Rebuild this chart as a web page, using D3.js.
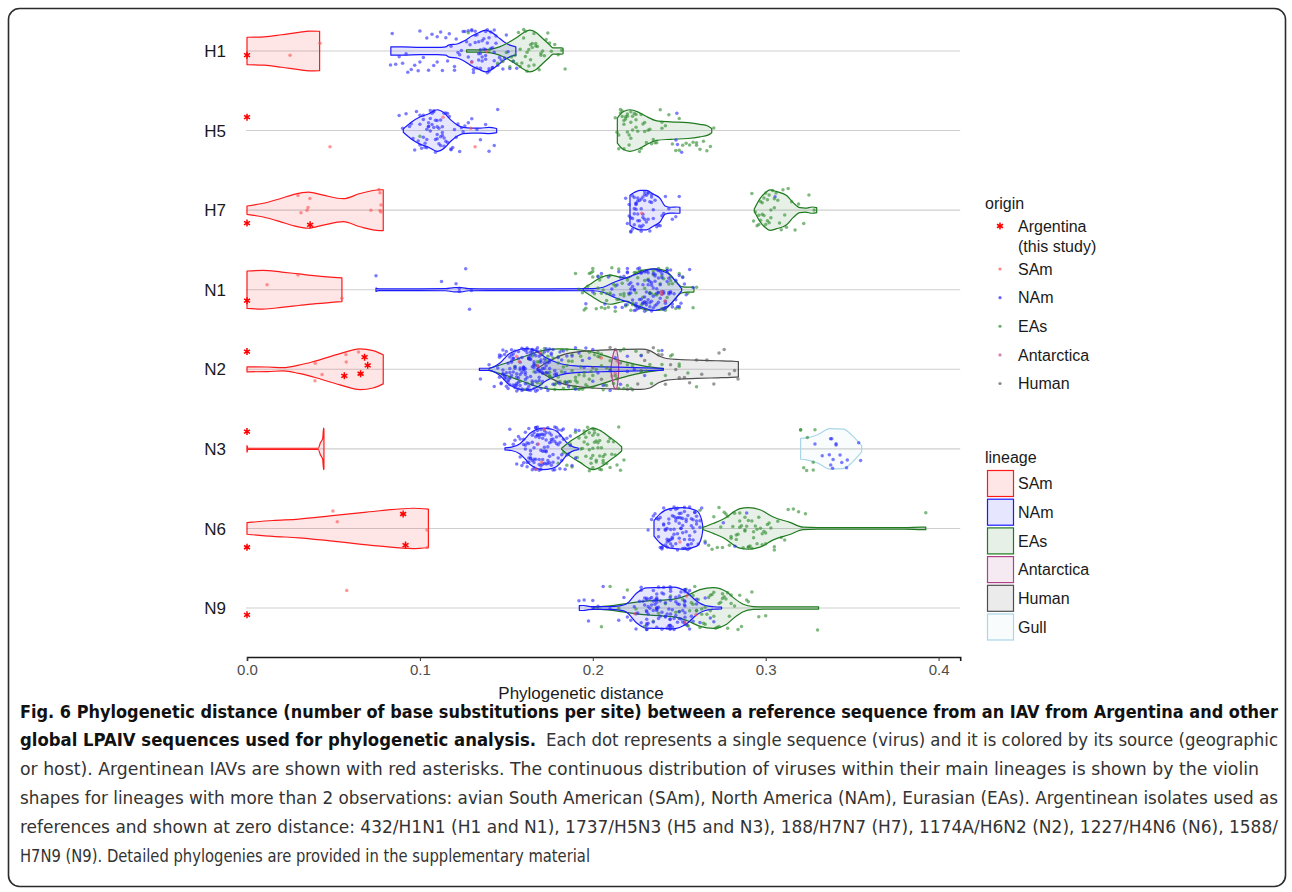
<!DOCTYPE html>
<html><head><meta charset="utf-8">
<script src="https://cdn.jsdelivr.net/npm/d3@7"></script>
<style>body{margin:0;background:#fff} svg{display:block}</style>
</head><body><svg id="c" width="1292" height="892"></svg>
<script>
// ---------- categories ----------
const genes = ["H1","H5","H7","N1","N2","N3","N6","N9"];
const lineages = ["SAm","NAm","EAs","Antarctica","Human","Gull"];
const origins = ["SAm","NAm","EAs","Antarctica","Human"];
const xTicks = [0, 0.1, 0.2, 0.3, 0.4];

// ---------- violin profiles: [distance, relative density] ----------
const vioH1SAm = [[0,.66],[.01,.68],[.02,.78],[.03,.9],[.036,.96],[.042,.95]];
const vioH1NAm = [[.0832,.2],[.09,.2],[.1,.17],[.11,.17],[.115,.2],[.1165,.28],[.122,.35],[.126,.5],[.13,.72],[.134,.88],[.138,1],[.141,.92],[.145,.68],[.149,.42],[.152,.28],[.1555,.2]];
const vioH1EAs = [[.127,.05],[.135,.05],[.14,.08],[.146,.2],[.151,.4],[.156,.65],[.16,.88],[.1635,1],[.167,.9],[.171,.6],[.175,.3],[.177,.15],[.182,.15],[.1828,.13]];
const vioH5NAm = [[.0904,.08],[.095,.4],[.1,.65],[.105,.8],[.11,1],[.114,.85],[.118,.5],[.122,.25],[.125,.15],[.13,.12],[.135,.12],[.14,.15],[.1444,.1]];
const vioH5EAs = [[.2142,.6],[.2175,.9],[.2215,1],[.226,.9],[.2305,.7],[.237,.47],[.245,.42],[.255,.38],[.262,.3],[.2665,.22],[.2688,.1]];
const vioH7SAm = [[0,.2],[.0094,.33],[.0191,.55],[.0268,.75],[.0355,.87],[.0441,.72],[.0557,.55],[.0654,.8],[.0769,.98],[.0788,.98]];
const vioH7NAm = [[.2215,.72],[.224,.85],[.2273,.95],[.231,.95],[.235,.77],[.2389,.57],[.2418,.2],[.245,.14],[.2485,.15],[.2504,.14]];
const vioH7EAs = [[.2934,.05],[.2967,.55],[.3,.85],[.3025,.97],[.306,.9],[.3121,.7],[.316,.35],[.3198,.12],[.323,.1],[.327,.15],[.3295,.12]];
const vioN1SAm = [[0,.9],[.0092,.93],[.02,.85],[.03,.76],[.04,.67],[.0549,.57]];
const vioN1NAm = [[.0746,.08],[.076,.04],[.1,.04],[.115,.05],[.12,.1],[.124,.1],[.128,.05],[.14,.04],[.2,.05],[.206,.12],[.212,.35],[.2196,.58],[.227,.8],[.235,1],[.24,.9],[.2446,.72],[.248,.4],[.2514,.05]];
const vioN1EAs = [[.1945,.05],[.2,.35],[.205,.6],[.21,.7],[.215,.62],[.2196,.55],[.225,.8],[.23,.95],[.236,1],[.242,.92],[.247,.5],[.2514,.15],[.255,.12],[.258,.12],[.2585,.1]];
const vioN2SAm = [[0,.12],[.012,.11],[.021,.08],[.03,.2],[.0384,.37],[.0538,.75],[.0654,.98],[.0729,.9],[.0788,.7]];
const vioN2NAm = [[.1344,.05],[.14,.05],[.1463,.3],[.1521,.77],[.1618,1],[.168,.85],[.173,.55],[.18,.3],[.19,.16],[.2,.13],[.215,.1],[.23,.07],[.2408,.04]];
const vioN2EAs = [[.14,.05],[.15,.3],[.16,.6],[.17,.88],[.18,.98],[.19,.95],[.2003,.82],[.2119,.52],[.22,.33],[.2292,.16],[.2408,.03]];
const vioN2Ant = [[.2105,.1],[.2115,.6],[.2125,.9],[.2135,.95],[.2145,.6],[.215,.1]];
const vioN2Hum = [[.168,.05],[.175,.4],[.185,.75],[.2,.9],[.215,.95],[.228,.97],[.233,.9],[.238,.65],[.2427,.52],[.25,.47],[.26,.44],[.272,.41],[.28,.39],[.2842,.37]];
const vioN3SAm = [[0,.16],[.0006,.03],[.0412,.03],[.0425,.3],[.0438,.5],[.0443,1],[.0445,.95]];
const vioN3NAm = [[.1492,.05],[.153,.08],[.1579,.25],[.161,.5],[.1637,.75],[.1714,1],[.176,.95],[.1791,.85],[.1825,.55],[.1849,.3],[.188,.12],[.1916,.04]];
const vioN3EAs = [[.182,.03],[.1868,.35],[.1926,.65],[.2003,1],[.205,.85],[.2099,.55],[.214,.3],[.2167,.1]];
const vioN3Gull = [[.3202,.5],[.3235,.53],[.33,.68],[.3372,.97],[.3449,.95],[.35,.65],[.3555,.15]];
const vioN6SAm = [[0,.28],[.015,.38],[.03,.45],[.048,.6],[.065,.75],[.0769,.85],[.0962,.97],[.1049,.93]];
const vioN6NAm = [[.2354,.37],[.2389,.7],[.2447,.95],[.2523,1],[.2601,.85],[.263,.4],[.2636,.1]];
const vioN6EAs = [[.2636,.05],[.27,.25],[.2755,.45],[.2851,.95],[.29,1],[.2967,.9],[.3044,.55],[.314,.29],[.3217,.06],[.33,.04],[.38,.04],[.3905,.06],[.3926,.06]];
const vioN9NAm = [[.1922,.11],[.1945,.12],[.1975,.08],[.2003,.07],[.21,.07],[.2157,.1],[.2196,.2],[.2254,.72],[.2312,.97],[.24,.98],[.2466,1],[.2543,.76],[.2601,.33],[.265,.12],[.27,.06],[.2745,.04]];
const vioN9EAs = [[.2003,.04],[.21,.1],[.22,.22],[.2292,.32],[.24,.38],[.2485,.45],[.2543,.6],[.262,.88],[.2697,.98],[.2774,.78],[.2813,.5],[.287,.18],[.2928,.07],[.3,.05],[.32,.05],[.3306,.05]];

// ---------- Argentina (this study) asterisks, per gene ----------
const argentinaPts = [[0],[0],[0,.0365],[0],[0,.0657,.0698,.0563,.068],[0],[0,.0903,.0917],[0]];

// ---------- sequence points (distance) per gene / origin ----------
const ptsH1SAm = [.0249,.0422,.13,.1386];
const ptsH1NAm = [.083,.084,.086,.088,.09,.092,.093,.095,.097,.099,.1,.102,.104,.105,.107,.108,.11,.112,.113,.115,.116,.117,.118,.12,.121,.122,.123,.124,.125,.126,.127,.128,.128,.129,.13,.13,.131,.132,.132,.133,.133,.134,.134,.135,.135,.136,.136,.137,.137,.138,.138,.138,.139,.139,.14,.14,.141,.141,.142,.142,.143,.143,.144,.145,.146,.147,.148,.149,.15,.151,.152,.154,.156,.13,.132,.134,.136,.138,.14,.142,.144,.131,.135,.139,.143,.1,.11,.12];
const ptsH1EAs = [.128,.14,.145,.148,.15,.152,.153,.154,.155,.156,.157,.158,.158,.159,.16,.16,.161,.161,.162,.162,.163,.163,.164,.164,.165,.165,.166,.166,.167,.167,.168,.169,.17,.17,.171,.172,.173,.174,.175,.176,.178,.18,.182,.184];
const ptsH5SAm = [.048,.1319,.1294,.1134];
const ptsH5NAm = [.088,.09,.092,.094,.095,.096,.097,.098,.099,.1,.1,.101,.102,.102,.103,.103,.104,.104,.105,.105,.106,.106,.107,.107,.108,.108,.109,.109,.11,.11,.11,.111,.111,.112,.112,.113,.113,.114,.114,.115,.115,.116,.117,.118,.118,.119,.12,.121,.122,.123,.124,.125,.126,.128,.13,.133,.135,.138,.14,.143,.145,.2481,.2486,.249,.2514,.1,.102,.104,.106,.108,.11,.112,.114,.116,.105,.109,.113];
const ptsH5EAs = [.1,.213,.214,.215,.216,.216,.217,.217,.218,.218,.219,.219,.22,.22,.221,.221,.222,.222,.223,.223,.224,.225,.225,.226,.227,.228,.229,.23,.231,.232,.233,.234,.235,.236,.237,.239,.24,.242,.244,.246,.248,.25,.252,.254,.256,.258,.26,.262,.264,.266,.268,.27,.215,.218,.22,.222,.225,.228,.23,.24,.25,.26];
const ptsH7SAm = [.0364,.0353,.0347,.0295,.0312,.0717,.0769,.0769,.0775,.0775,.0763,.2283];
const ptsH7NAm = [.219,.22,.221,.221,.222,.222,.223,.223,.223,.224,.224,.224,.225,.225,.225,.226,.226,.226,.227,.227,.227,.228,.228,.228,.229,.229,.229,.23,.23,.23,.231,.231,.232,.232,.233,.233,.234,.234,.235,.235,.236,.237,.238,.239,.24,.241,.242,.244,.246,.248,.25,.3054,.222,.224,.226,.228,.23,.232,.234,.225,.229];
const ptsH7EAs = [.292,.293,.294,.295,.296,.296,.297,.297,.298,.298,.299,.299,.3,.3,.301,.301,.302,.302,.303,.303,.304,.305,.305,.306,.307,.308,.309,.31,.311,.312,.313,.315,.317,.319,.322,.325,.328];
const ptsN1SAm = [.0295,.0116,.0549,.2398,.2398,.2418];
const ptsN1NAm = [.0746,.1209,.1228,.1287,.1125,.1228,.1265,.1298,.196,.2,.203,.205,.207,.209,.211,.212,.213,.214,.215,.216,.217,.218,.219,.22,.22,.221,.222,.222,.223,.224,.224,.225,.225,.226,.226,.227,.227,.228,.228,.229,.229,.23,.23,.23,.231,.231,.231,.232,.232,.232,.233,.233,.233,.234,.234,.234,.235,.235,.235,.236,.236,.236,.237,.237,.237,.238,.238,.238,.239,.239,.24,.24,.24,.241,.241,.242,.242,.243,.243,.244,.244,.245,.245,.246,.247,.248,.249,.25,.251,.252,.254,.256,.258,.22,.222,.224,.226,.228,.23,.232,.234,.236,.238,.24,.242,.244,.246,.248,.221,.223,.225,.227,.229,.231,.233,.235,.237,.239,.241,.243,.245,.25,.253];
const ptsN1EAs = [.19,.192,.194,.195,.196,.197,.198,.199,.2,.2,.201,.202,.203,.204,.205,.205,.206,.207,.208,.209,.21,.21,.211,.212,.213,.214,.215,.216,.217,.218,.219,.22,.221,.222,.223,.224,.225,.226,.227,.228,.229,.23,.23,.231,.232,.233,.234,.235,.236,.237,.238,.239,.24,.241,.242,.243,.244,.245,.246,.248,.25,.252,.255,.258,.26,.2,.205,.21,.215,.22,.225,.23,.235,.24,.245,.25,.203,.208,.213,.218,.223,.228,.233,.238,.243,.248];
const ptsN2SAm = [.0434,.0395,.0393,.0572,.0574,.0645,.156,.1695,.1683,.1575,.205];
const ptsN2NAm = [.135,.14,.143,.145,.146,.147,.148,.148,.149,.149,.15,.15,.151,.151,.152,.152,.152,.153,.153,.153,.154,.154,.154,.155,.155,.155,.156,.156,.156,.157,.157,.157,.158,.158,.158,.159,.159,.159,.16,.16,.16,.16,.161,.161,.161,.161,.162,.162,.162,.162,.163,.163,.163,.163,.164,.164,.164,.164,.165,.165,.165,.165,.166,.166,.166,.166,.167,.167,.167,.168,.168,.168,.169,.169,.169,.17,.17,.17,.171,.171,.172,.172,.173,.173,.174,.174,.175,.175,.176,.177,.178,.179,.18,.181,.182,.183,.184,.185,.186,.188,.19,.192,.194,.196,.198,.2,.203,.206,.21,.213,.216,.22,.224,.228,.146,.147,.148,.149,.15,.151,.152,.153,.154,.155,.156,.157,.158,.159,.16,.161,.162,.163,.164,.165,.166,.167,.168,.169,.17,.171,.172,.173,.174,.175,.146,.148,.15,.152,.154,.156,.158,.16,.162,.164,.166,.168,.17,.172,.174,.176,.178,.18,.147,.149,.151,.153,.155,.157,.159,.161,.163,.165,.167,.169,.171,.173,.175,.177,.179,.181,.185,.19,.195,.2,.21,.22,.23,.24];
const ptsN2EAs = [.152,.155,.158,.16,.162,.163,.165,.166,.167,.168,.169,.17,.171,.172,.173,.174,.175,.175,.176,.177,.178,.178,.179,.18,.18,.181,.182,.182,.183,.184,.184,.185,.186,.186,.187,.188,.188,.189,.19,.19,.191,.192,.192,.193,.194,.195,.196,.197,.198,.199,.2,.201,.202,.203,.204,.205,.206,.207,.208,.21,.212,.214,.216,.218,.22,.222,.225,.228,.231,.234,.238,.242,.246,.25,.255,.165,.17,.175,.18,.185,.19,.195,.2,.205,.21,.215,.22,.168,.173,.178,.183,.188,.193,.198,.203,.208,.213,.218,.223,.228,.233,.24,.245,.25,.26];
const ptsN2Ant = [.211,.213,.214];
const ptsN2Hum = [.2,.205,.21,.213,.216,.22,.223,.226,.228,.23,.232,.235,.238,.24,.242,.245,.248,.25,.253,.256,.26,.263,.266,.27,.273,.276,.279,.282,.284];
const ptsN3SAm = [.1704,.1685,.1672,.172];
const ptsN3NAm = [.149,.152,.154,.156,.157,.158,.159,.16,.16,.161,.161,.162,.162,.163,.163,.163,.164,.164,.164,.165,.165,.165,.166,.166,.166,.166,.167,.167,.167,.167,.168,.168,.168,.168,.169,.169,.169,.169,.17,.17,.17,.17,.171,.171,.171,.171,.172,.172,.172,.172,.173,.173,.173,.173,.174,.174,.174,.175,.175,.175,.176,.176,.176,.177,.177,.177,.178,.178,.179,.179,.18,.18,.181,.181,.182,.182,.183,.184,.185,.186,.187,.188,.19,.192,.3327,.3382,.3407,.3472,.3368,.3375,.3407,.3468,.3549,.344,.3387,.3376,.3285,.3538,.339,.343,.16,.162,.164,.166,.168,.17,.172,.174,.176,.178,.18,.182,.161,.163,.165,.167,.169,.171,.173,.175,.177,.179,.181,.183,.185,.155,.158,.187,.19];
const ptsN3EAs = [.18,.183,.185,.187,.188,.19,.191,.192,.193,.194,.195,.195,.196,.196,.197,.197,.198,.198,.199,.199,.2,.2,.2,.201,.201,.201,.202,.202,.203,.203,.204,.204,.205,.205,.206,.206,.207,.208,.209,.21,.211,.212,.213,.214,.215,.216,.218,.3202,.3237,.3285,.3241,.3275,.3202,.3275,.322,.195,.198,.2,.202,.204,.206,.2,.203,.21];
const ptsN6SAm = [.0522,.0497,.1041,.1041,.2504];
const ptsN6NAm = [.232,.234,.235,.236,.237,.238,.238,.239,.239,.24,.24,.241,.241,.242,.242,.243,.243,.243,.244,.244,.244,.245,.245,.245,.246,.246,.246,.247,.247,.247,.248,.248,.248,.249,.249,.249,.25,.25,.25,.251,.251,.251,.252,.252,.252,.253,.253,.253,.254,.254,.254,.255,.255,.255,.256,.256,.256,.257,.257,.258,.258,.259,.259,.26,.26,.261,.262,.263,.265,.2755,.2822,.289,.24,.242,.244,.246,.248,.25,.252,.254,.256,.258,.26,.241,.243,.245,.247,.249,.251,.253,.255,.257,.259,.238,.262];
const ptsN6EAs = [.262,.265,.267,.269,.27,.272,.273,.274,.275,.276,.277,.278,.279,.28,.281,.282,.283,.284,.285,.285,.286,.287,.288,.288,.289,.29,.29,.291,.292,.292,.293,.294,.295,.296,.297,.298,.299,.3,.301,.302,.303,.305,.307,.309,.311,.313,.316,.319,.323,.3926,.28,.285,.29,.295,.3,.305,.283,.288,.293,.298];
const ptsN9SAm = [.0577,.2597,.2543,.2533,.2244];
const ptsN9NAm = [.192,.195,.1975,.2,.2,.203,.206,.21,.215,.218,.22,.222,.224,.225,.226,.227,.228,.228,.229,.23,.23,.231,.2312,.2312,.2312,.2312,.2312,.2312,.232,.232,.233,.233,.234,.234,.235,.235,.235,.236,.236,.237,.237,.237,.237,.237,.237,.237,.237,.238,.238,.239,.239,.24,.24,.24,.241,.241,.242,.242,.243,.243,.244,.244,.2447,.2447,.2447,.2447,.2447,.2447,.245,.245,.245,.246,.246,.247,.247,.248,.248,.249,.249,.25,.25,.25,.251,.251,.252,.252,.253,.253,.2533,.2533,.2533,.2533,.2533,.2533,.254,.255,.256,.257,.258,.26,.262,.265,.268,.27,.225,.228,.232,.235,.238,.242,.245,.248,.25,.253,.256,.26,.2312,.2312,.237,.237,.2447,.2447,.2533,.2533];
const ptsN9EAs = [.205,.21,.215,.22,.225,.23,.235,.238,.242,.245,.248,.25,.252,.254,.255,.256,.257,.258,.259,.26,.261,.262,.263,.264,.265,.266,.267,.268,.269,.27,.271,.272,.273,.274,.275,.276,.277,.278,.279,.28,.282,.284,.286,.289,.292,.296,.3,.33,.255,.26,.265,.27,.275,.28,.258,.263,.268,.273,.278,.285,.29];

// ---------- tables built from the arrays ----------
const violins = [
  ["H1","SAm",vioH1SAm],["H1","NAm",vioH1NAm],["H1","EAs",vioH1EAs],
  ["H5","NAm",vioH5NAm],["H5","EAs",vioH5EAs],
  ["H7","SAm",vioH7SAm],["H7","NAm",vioH7NAm],["H7","EAs",vioH7EAs],
  ["N1","SAm",vioN1SAm],["N1","EAs",vioN1EAs],["N1","NAm",vioN1NAm],
  ["N2","SAm",vioN2SAm],["N2","EAs",vioN2EAs],["N2","Human",vioN2Hum],["N2","Antarctica",vioN2Ant],["N2","NAm",vioN2NAm],
  ["N3","SAm",vioN3SAm],["N3","NAm",vioN3NAm],["N3","EAs",vioN3EAs],["N3","Gull",vioN3Gull],
  ["N6","SAm",vioN6SAm],["N6","NAm",vioN6NAm],["N6","EAs",vioN6EAs],
  ["N9","EAs",vioN9EAs],["N9","NAm",vioN9NAm]
];
const pointSets = [
  ["H1","NAm",ptsH1NAm],["H1","EAs",ptsH1EAs],["H1","SAm",ptsH1SAm],
  ["H5","NAm",ptsH5NAm],["H5","EAs",ptsH5EAs],["H5","SAm",ptsH5SAm],
  ["H7","NAm",ptsH7NAm],["H7","EAs",ptsH7EAs],["H7","SAm",ptsH7SAm],
  ["N1","EAs",ptsN1EAs],["N1","NAm",ptsN1NAm],["N1","SAm",ptsN1SAm],
  ["N2","Human",ptsN2Hum],["N2","EAs",ptsN2EAs],["N2","NAm",ptsN2NAm],["N2","Antarctica",ptsN2Ant],["N2","SAm",ptsN2SAm],
  ["N3","EAs",ptsN3EAs],["N3","NAm",ptsN3NAm],["N3","SAm",ptsN3SAm],
  ["N6","EAs",ptsN6EAs],["N6","NAm",ptsN6NAm],["N6","SAm",ptsN6SAm],
  ["N9","EAs",ptsN9EAs],["N9","NAm",ptsN9NAm],["N9","SAm",ptsN9SAm]
];

// ---------- drawing ----------
const svg = d3.select("#c");
const x = d3.scaleLinear().domain([0, 0.4125]).range([247, 960.2]);
const y = d3.scalePoint().domain(genes).range([51, 608]);
const w = d3.scaleLinear().domain([0, 1]).range([0, 20.8]);
const lineColor = d3.scaleOrdinal().domain(lineages).range(["#ff1a1a","#1a1aff","#1f7a1f","#b0408a","#4d4d4d","#a9d6e8"]);
const ptColor = d3.scaleOrdinal().domain(origins).range(["#ff5050","#2424ff","#2a8a2a","#c0508f","#555555"]);
const FONT = "'Liberation Sans', Arial, Helvetica, sans-serif";

svg.append("rect").attr("x",8.5).attr("y",8.5).attr("width",1277).attr("height",878)
  .attr("rx",11).attr("fill","none").attr("stroke","#2b2b2b").attr("stroke-width",1.6);

// grid lines
svg.append("g").selectAll("line").data(genes).join("line")
  .attr("x1", 246).attr("x2", x(0.4125)).attr("y1", d => y(d)).attr("y2", d => y(d))
  .attr("stroke", "#cfcfcf").attr("stroke-width", 1.1);

// gene labels
svg.append("g").selectAll("text").data(genes).join("text")
  .attr("x", 226).attr("y", d => y(d)).attr("dy", "0.36em").attr("text-anchor","end")
  .attr("font-family", FONT).attr("font-size", 17).attr("fill","#1a1a1a").text(d => d);

// violins
const gV = svg.append("g");
violins.forEach(([gene, lin, prof]) => {
  const cy = y(gene);
  const area = d3.area().x(d => x(d[0])).y0(d => cy - w(d[1])).y1(d => cy + w(d[1])).curve(d3.curveMonotoneX);
  gV.append("path").attr("d", area(prof))
    .attr("fill", lineColor(lin)).attr("fill-opacity", lin === "Gull" ? 0.08 : 0.11)
    .attr("stroke", lineColor(lin)).attr("stroke-width", 1.2).attr("stroke-linejoin","round");
});

// jittered points (deterministic vertical spread, as geom_jitter does)
const jit = (i, s) => { const v = Math.sin(i * 127.1 + s * 311.7) * 43758.5453; return (v - Math.floor(v)) * 2 - 1; };
const gP = svg.append("g");
pointSets.forEach(([gene, org, xs], si) => {
  const cy = y(gene);
  gP.append("g").selectAll("circle").data(xs).join("circle")
    .attr("cx", d => x(d)).attr("cy", (d, i) => cy + jit(i, si + 1) * 22)
    .attr("r", 1.75).attr("fill", ptColor(org)).attr("fill-opacity", 0.6);
});

// Argentina asterisks
const star = d3.symbol(d3.symbolAsterisk, 34);
genes.forEach((gene, gi) => {
  const cy = y(gene);
  svg.append("g").selectAll("path").data(argentinaPts[gi]).join("path")
    .attr("d", star).attr("transform", (d, i) => `translate(${x(d)},${cy + jit(i, gi * 3 + 40) * 20})`)
    .attr("fill","none").attr("stroke","#ff0000").attr("stroke-width",1.5);
});

// x axis
const ax = svg.append("g").attr("transform","translate(0,657)")
  .call(d3.axisBottom(x).tickValues(xTicks).tickFormat(d3.format(".1f")).tickSize(4).tickPadding(3));
ax.select(".domain").attr("stroke","#1a1a1a").attr("stroke-width",1.6);
ax.selectAll(".tick line").attr("stroke","#333");
ax.selectAll(".tick text").attr("font-family", FONT).attr("font-size", 15).attr("fill","#4d4d4d");
svg.append("text").attr("x", 581).attr("y", 699).attr("text-anchor","middle")
  .attr("font-family", FONT).attr("font-size", 17).attr("fill","#1a1a1a").text("Phylogenetic distance");

// legend: origin
const LX = 985;
svg.append("text").attr("x", LX).attr("y", 203).attr("dy","0.36em").attr("font-family", FONT)
  .attr("font-size", 16).attr("fill","#1a1a1a").text("origin");
svg.append("path").attr("d", star).attr("transform","translate(1000,226)")
  .attr("fill","none").attr("stroke","#ff0000").attr("stroke-width",1.5);
svg.append("text").attr("x",1018).attr("y",226).attr("dy","0.36em").attr("font-family",FONT)
  .attr("font-size",16).attr("fill","#1a1a1a").text("Argentina");
svg.append("text").attr("x",1018).attr("y",246.5).attr("dy","0.36em").attr("font-family",FONT)
  .attr("font-size",16).attr("fill","#1a1a1a").text("(this study)");
const oy = d3.scaleLinear().domain([0,4]).range([269, 383.5]);
const gO = svg.append("g").selectAll("g").data(origins).join("g")
  .attr("transform", (d, i) => `translate(0,${oy(i)})`);
gO.append("circle").attr("cx",1000).attr("cy",0).attr("r",1.6).attr("fill", d => ptColor(d)).attr("fill-opacity",0.7);
gO.append("text").attr("x",1018).attr("dy","0.36em").attr("font-family",FONT).attr("font-size",16)
  .attr("fill","#1a1a1a").text(d => d);

// legend: lineage
svg.append("text").attr("x", LX).attr("y", 457).attr("dy","0.36em").attr("font-family", FONT)
  .attr("font-size", 16).attr("fill","#1a1a1a").text("lineage");
const ly = d3.scaleLinear().domain([0,5]).range([483.5, 627]);
const gL = svg.append("g").selectAll("g").data(lineages).join("g")
  .attr("transform", (d, i) => `translate(0,${ly(i)})`);
gL.append("rect").attr("x",987.5).attr("y",-13).attr("width",26).attr("height",26)
  .attr("fill", d => lineColor(d)).attr("fill-opacity", d => d === "Gull" ? 0.08 : 0.11)
  .attr("stroke", d => lineColor(d)).attr("stroke-width",1.2);
gL.append("text").attr("x",1018).attr("dy","0.36em").attr("font-family",FONT).attr("font-size",16)
  .attr("fill","#1a1a1a").text(d => d);

// caption
const CF = "'Liberation Sans Narrow', 'DejaVu Sans Condensed', 'Open Sans', sans-serif";
const capLines = [
  {t:"Fig. 6 Phylogenetic distance (number of base substitutions per site) between a reference sequence from an IAV from Argentina and other", x0:20, x1:1278, y:718, b:true},
  {t:"global LPAIV sequences used for phylogenetic analysis.", x0:20, x1:536, y:746, b:true},
  {t:"Each dot represents a single sequence (virus) and it is colored by its source (geographic", x0:546, x1:1278, y:746, b:false},
  {t:"or host). Argentinean IAVs are shown with red asterisks. The continuous distribution of viruses within their main lineages is shown by the violin", x0:20, x1:1259, y:775, b:false},
  {t:"shapes for lineages with more than 2 observations: avian South American (SAm), North America (NAm), Eurasian (EAs). Argentinean isolates used as", x0:20, x1:1278, y:804, b:false},
  {t:"references and shown at zero distance: 432/H1N1 (H1 and N1), 1737/H5N3 (H5 and N3), 188/H7N7 (H7), 1174A/H6N2 (N2), 1227/H4N6 (N6), 1588/", x0:20, x1:1278, y:833, b:false},
  {t:"H7N9 (N9). Detailed phylogenies are provided in the supplementary material", x0:20, x1:590, y:862, b:false}
];
svg.append("g").selectAll("text").data(capLines).join("text")
  .attr("x", d => d.x0).attr("y", d => d.y).attr("textLength", d => d.x1 - d.x0)
  .attr("lengthAdjust","spacingAndGlyphs").attr("font-family", CF).attr("font-size", 18)
  .attr("font-weight", d => d.b ? "bold" : "normal").attr("fill", d => d.b ? "#111" : "#333")
  .text(d => d.t);
</script></body></html>
